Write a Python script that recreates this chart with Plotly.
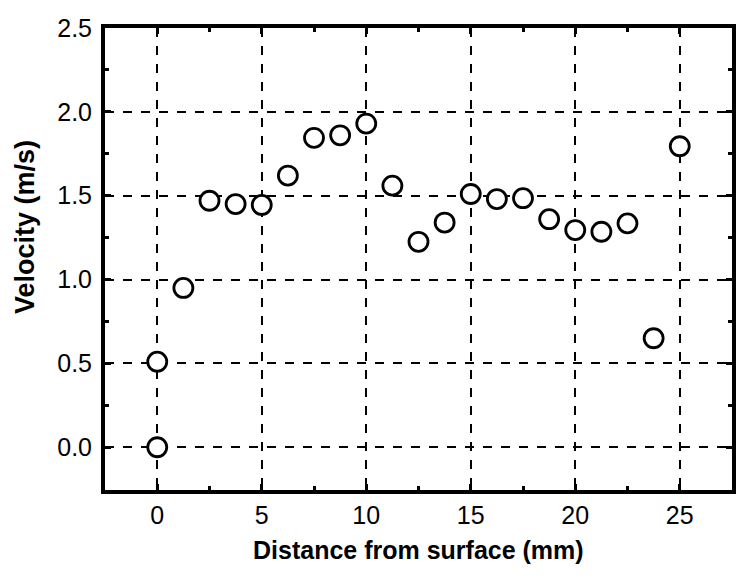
import plotly.graph_objects as go

distance_mm = [0, 0, 1.25, 2.5, 3.75, 5, 6.25, 7.5, 8.75, 10, 11.25, 12.5, 13.75,
               15, 16.25, 17.5, 18.75, 20, 21.25, 22.5, 23.75, 25]
velocity_ms = [0.0, 0.51, 0.95, 1.47, 1.45, 1.445, 1.62, 1.845, 1.86, 1.93, 1.56, 1.225,
               1.34, 1.51, 1.48, 1.485, 1.36, 1.295, 1.285, 1.335, 0.65, 1.795]

x_ticks = [0, 5, 10, 15, 20, 25]
y_ticks = [0.0, 0.5, 1.0, 1.5, 2.0, 2.5]
y_tick_labels = ["0.0", "0.5", "1.0", "1.5", "2.0", "2.5"]
x_title = "Distance from surface (mm)"
y_title = "Velocity (m/s)"

FONT = "Liberation Sans, Arial, sans-serif"

fig = go.Figure()
fig.add_trace(go.Scatter(
    x=distance_mm, y=velocity_ms, mode="markers",
    marker=dict(symbol="circle", size=19, color="white",
                line=dict(width=2.8, color="black")),
    showlegend=False, cliponaxis=False,
))

axis_common = dict(
    showline=True, linecolor="black", linewidth=4, mirror="ticks",
    ticks="inside", ticklen=6, tickwidth=3, tickcolor="black",
    showgrid=True, gridcolor="black", gridwidth=1.6, griddash="dash",
    zeroline=False, layer="below traces",
    tickfont=dict(family=FONT, size=25, color="black"),
)

fig.update_xaxes(
    range=[-2.5, 27.5], tickvals=x_ticks,
    minor=dict(ticks="inside", ticklen=4, tickwidth=2.5, tickcolor="black",
               dtick=2.5, tick0=0, showgrid=False),
    **axis_common,
)
fig.update_yaxes(
    range=[-0.255, 2.5], tickvals=y_ticks, ticktext=y_tick_labels,
    ticklabelstandoff=4,
    minor=dict(ticks="inside", ticklen=4, tickwidth=2.5, tickcolor="black",
               dtick=0.25, tick0=0, showgrid=False),
    **axis_common,
)

fig.add_annotation(
    text="<b>" + x_title + "</b>", xref="paper", yref="paper",
    x=0.5, y=-0.13, xanchor="center", yanchor="middle", showarrow=False,
    font=dict(family=FONT, size=25, color="black"),
)
fig.add_annotation(
    text="<b>" + y_title + "</b>", xref="paper", yref="paper",
    x=-0.1276, y=0.569, xanchor="center", yanchor="middle", showarrow=False,
    textangle=-90, font=dict(family=FONT, size=27, color="black"),
)

fig.update_layout(
    width=748, height=579,
    margin=dict(l=105, r=16, t=28, b=89),
    plot_bgcolor="white", paper_bgcolor="white",
)

fig.write_html("out.html")
